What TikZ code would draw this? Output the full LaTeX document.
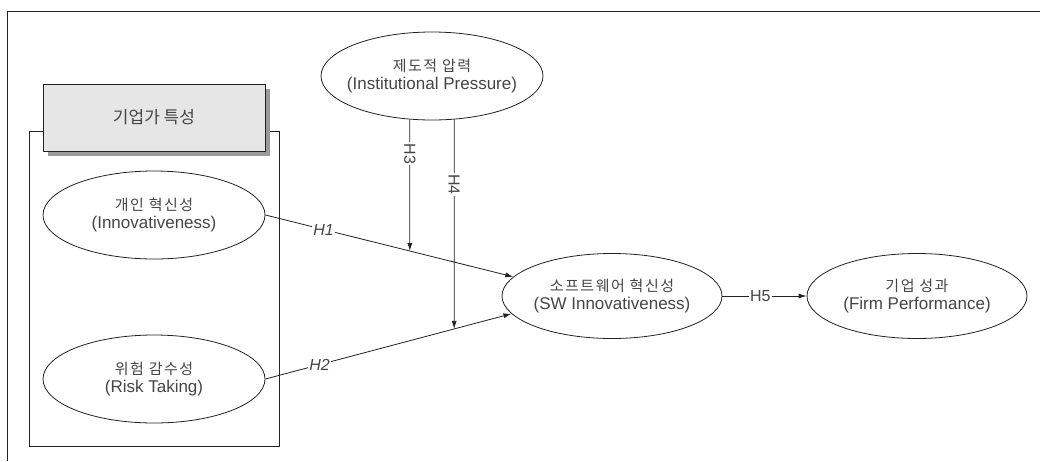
\documentclass[tikz,border=0pt]{standalone}
\usepackage{fontspec}
\setmainfont{Liberation Sans}
\newfontfamily\kr[LetterSpace=10]{Noto Sans CJK KR}
\newfontfamily\krh{Noto Sans CJK KR}
\usetikzlibrary{shapes.geometric,arrows.meta,intersections}
\definecolor{ink}{HTML}{222222}
\definecolor{txt}{HTML}{454545}
\definecolor{hdr}{HTML}{E6E6E6}
\definecolor{shd}{HTML}{9A9A9A}
\newcommand{\two}[2]{{\kr\fontsize{15}{18}\selectfont #1}\\{\fontsize{17}{18}\selectfont #2}}
\tikzset{
  ell/.style={ellipse,draw=ink,line width=0.8pt,minimum width=222pt,minimum height=88pt,inner xsep=-20pt,inner ysep=-10pt,align=center,text=txt,font=\fontsize{15}{18}\selectfont},
  arr/.style={draw=ink,line width=0.8pt,-{Latex[length=8pt,width=5pt]}},
  ln/.style={draw=ink,line width=0.8pt},
  lbl/.style={fill=white,inner sep=1pt,text=txt,font=\fontsize{16}{16}\selectfont},
}
\begin{document}
\begin{tikzpicture}[x=1pt,y=-1pt]
\useasboundingbox (0,0) rectangle (1040,461);
\fill[white] (0,0) rectangle (1040,461);
% outer frame (top and left)
\coordinate (fbl) at (7,461);
\coordinate (ftl) at (7,11);
\coordinate (ftr) at (1040,11);
\draw[ln] (fbl) -- (ftl) -- (ftr);
% group box
\node[draw=ink,line width=0.8pt,minimum width=250pt,minimum height=315pt,inner sep=0pt] (grp) at (154,288.5) {};
% header with shadow
\node[fill=shd,minimum width=222pt,minimum height=67pt,inner sep=0pt] (hshadow) at (159,122.5) {};
\node[draw=ink,fill=hdr,line width=0.8pt,minimum width=222pt,minimum height=67pt,inner sep=0pt,text=txt,font=\krh\fontsize{17}{17}\selectfont] (hdr) at (154,117.5) {기업가 특성};
% ellipses
\node[ell] (inno) at (154,215) {\two{개인 혁신성}{(Innovativeness)}};
\node[ell] (risk) at (154,379) {\two{위험 감수성}{(Risk Taking)}};
\node[ell] (inst) at (432,76) {\two{제도적 압력}{(Institutional Pressure)}};
\node[ell,minimum height=85pt,minimum width=220pt] (sw) at (612,296) {\two{소프트웨어 혁신성}{(SW Innovativeness)}};
\node[ell,minimum height=85pt,minimum width=220pt] (firm) at (917,296) {\two{기업 성과}{(Firm Performance)}};
% H1, H2
\draw[arr] (inno.east) -- node[lbl,pos=0.235,font=\fontsize{16}{16}\selectfont\itshape] {H1} (sw.169.6);
\draw[arr] (risk.east) -- node[lbl,pos=0.22,font=\fontsize{16}{16}\selectfont\itshape] {H2} (sw.190.4);
% H3, H4 moderators
\path[name path=p1] (inno.east) -- (sw.169.6);
\path[name path=p2] (risk.east) -- (sw.190.4);
\path[name path=v3] (inst.243) -- ++(0,300);
\path[name path=v4] (inst.297) -- ++(0,300);
\path[name intersections={of=p1 and v3,by=h3end}];
\path[name intersections={of=p2 and v4,by=h4end}];
\draw[arr] (inst.243) -- node[lbl,pos=0.26,rotate=-90] {H3} (h3end);
\draw[arr] (inst.297) -- node[lbl,pos=0.31,rotate=-90] {H4} (h4end);
% H5
\draw[arr] (sw.east) -- node[lbl,pos=0.45] {H5} (firm.west);
\end{tikzpicture}
\end{document}
